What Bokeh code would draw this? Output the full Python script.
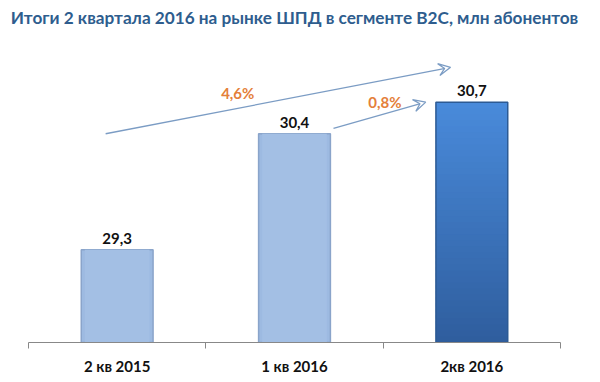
from bokeh.plotting import figure
from bokeh.models import FixedTicker, Range1d, Arrow, VeeHead, Title, ColumnDataSource
from bokeh.core.properties import value
from bokeh.embed import file_html
from bokeh.resources import INLINE

categories = ["2 кв 2015", "1 кв 2016", "2кв 2016"]
values = [29.3, 30.4, 30.7]
value_labels = ["29,3", "30,4", "30,7"]
growth_labels = ["4,6%", "0,8%"]
title_text = "Итоги 2 квартала 2016 на рынке ШПД в сегменте B2C, млн абонентов"

FONT = "Lato"
y_min, y_max = 28.42, 31.37

p = figure(width=600, height=382, output_backend="svg", toolbar_location=None,
           x_range=Range1d(0, 3), y_range=Range1d(y_min, y_max),
           min_border_left=28, min_border_right=40, min_border_top=4, min_border_bottom=40)
p.title = Title(text=title_text, align="center", offset=19, text_font=FONT,
                text_font_size="17.2px", text_font_style="bold", text_color="#2E5D8E",
                standoff=8)
p.outline_line_color = None
p.grid.grid_line_color = None
p.yaxis.visible = False
p.background_fill_color = "white"
p.border_fill_color = "white"

xs = [i + 0.5 for i in range(len(categories))]
bw = 0.405

# light bars (first two)
light = ColumnDataSource(dict(x=xs[:2], top=values[:2]))
p.vbar(x="x", top="top", bottom=y_min, width=bw, source=light,
       fill_color="#9DBAE1", line_color="#8AA4CA", line_width=1.5)
p.vbar(x="x", top="top", bottom=y_min, width=bw * 0.9, source=light,
       fill_color="#A3BFE4", line_color=None)

# dark bar with vertical gradient
n = 40
top3 = values[2]
c_bot = (0x2F, 0x5E, 0x9E)
c_top = (0x4A, 0x8B, 0xDB)
gx, gb, gt, gc = [], [], [], []
for k in range(n):
    b = y_min + (top3 - y_min) * k / n
    t = y_min + (top3 - y_min) * (k + 1.6) / n
    t = min(t, top3)
    f = (k + 0.5) / n
    col = "#%02x%02x%02x" % tuple(int(c_bot[j] + (c_top[j] - c_bot[j]) * f) for j in range(3))
    gx.append(xs[2]); gb.append(b); gt.append(t); gc.append(col)
p.vbar(x=gx, bottom=gb, top=gt, width=bw, fill_color=gc, line_color=None)
p.vbar(x=[xs[2]], top=[top3], bottom=y_min, width=bw, fill_color=None,
       line_color="#2C5A94", line_width=1.5)

# value labels
p.text(x=xs, y=values, text=value_labels, text_font=value(FONT), text_font_size="15px",
       text_font_style="bold", text_color="#111111", text_align="center",
       text_baseline="bottom", y_offset=-6)

# growth arrows
arrow_col = "#7B9CC4"
p.add_layout(Arrow(x_start=xs[0] - 0.065, y_start=values[1], x_end=xs[2] - 0.12, y_end=values[2] + 0.33,
                   line_color=arrow_col, line_width=1.3,
                   end=VeeHead(size=12, line_color=arrow_col, line_width=1.3, fill_color=None)))
p.add_layout(Arrow(x_start=xs[1] + 0.22, y_start=values[1] + 0.05, x_end=xs[2] - 0.26, y_end=values[2],
                   line_color=arrow_col, line_width=1.3,
                   end=VeeHead(size=12, line_color=arrow_col, line_width=1.3, fill_color=None)))
p.text(x=[xs[1] - 0.32, xs[2] - 0.49], y=[values[2] + 0.085, values[2]], text=growth_labels,
       text_font=value(FONT), text_font_size="15px", text_font_style="bold",
       text_color="#E4803A", text_align="center", text_baseline="middle")

# x axis
p.xaxis.ticker = FixedTicker(ticks=xs, minor_ticks=[0, 1, 2, 3])
p.xaxis.major_label_overrides = {x: c for x, c in zip(xs, categories)}
p.xaxis.major_tick_line_color = None
p.xaxis.major_tick_out = 6
p.xaxis.major_tick_in = 0
p.xaxis.minor_tick_line_color = "#888888"
p.xaxis.minor_tick_out = 6
p.xaxis.minor_tick_in = 0
p.xaxis.axis_line_color = "#888888"
p.xaxis.axis_line_width = 1.2
p.xaxis.major_label_standoff = 8
p.xaxis.major_label_text_font = FONT
p.xaxis.major_label_text_font_size = "15px"
p.xaxis.major_label_text_font_style = "bold"
p.xaxis.major_label_text_color = "#111111"

open("out.html", "w").write(file_html(p, INLINE))
